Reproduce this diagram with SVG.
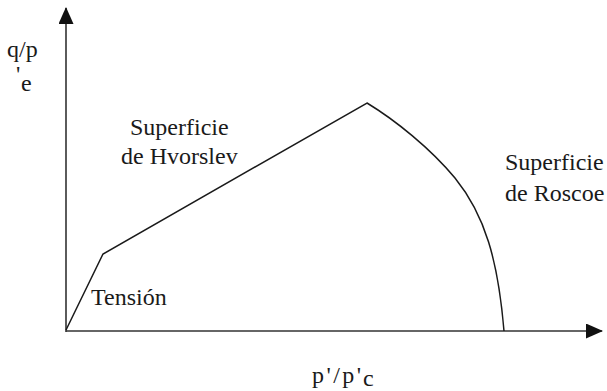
<svg xmlns="http://www.w3.org/2000/svg" width="607" height="391" viewBox="0 0 607 391">
<style>
text{font-family:"Liberation Serif","Times New Roman",serif;fill:#1a1a1a;font-size:24px}
.ax{stroke:#333;stroke-width:1.6;fill:none}
.cv{stroke:#1a1a1a;stroke-width:1.5;fill:none;stroke-linejoin:miter}
</style>
<defs>
<marker id="ahb" markerWidth="17" markerHeight="15" refX="16" refY="7.5" orient="auto" markerUnits="userSpaceOnUse" viewBox="0 0 17 15">
<path d="M0,0 L17,7.5 L0,15 Z" fill="#111"/>
</marker>
</defs>
<g id="connectors">
<line class="ax" x1="66" y1="332" x2="66" y2="8" marker-end="url(#ahb)"/>
<line class="ax" x1="66" y1="331" x2="602" y2="331" marker-end="url(#ahb)"/>
<path class="cv" d="M66,330 L103,254 L367,103 C395,120 430,148 455,178 C485,215 498,260 504,331"/>
</g>
<g id="ylabel">
<text x="7" y="57">q/p</text>
<text x="16" y="82" font-size="20">'</text>
<text x="21" y="91" font-size="11">e</text>
</g>
<g id="hvorslev">
<text x="130" y="135">Superficie</text>
<text x="121" y="164">de Hvorslev</text>
</g>
<g id="roscoe">
<text x="505" y="170">Superficie</text>
<text x="505" y="201">de Roscoe</text>
</g>
<g id="tension">
<text x="91" y="305">Tensión</text>
</g>
<g id="xlabel">
<text x="312" y="383" textLength="49" lengthAdjust="spacing">p'/p'</text>
<text x="363" y="386" font-size="11">c</text>
</g>
</svg>
